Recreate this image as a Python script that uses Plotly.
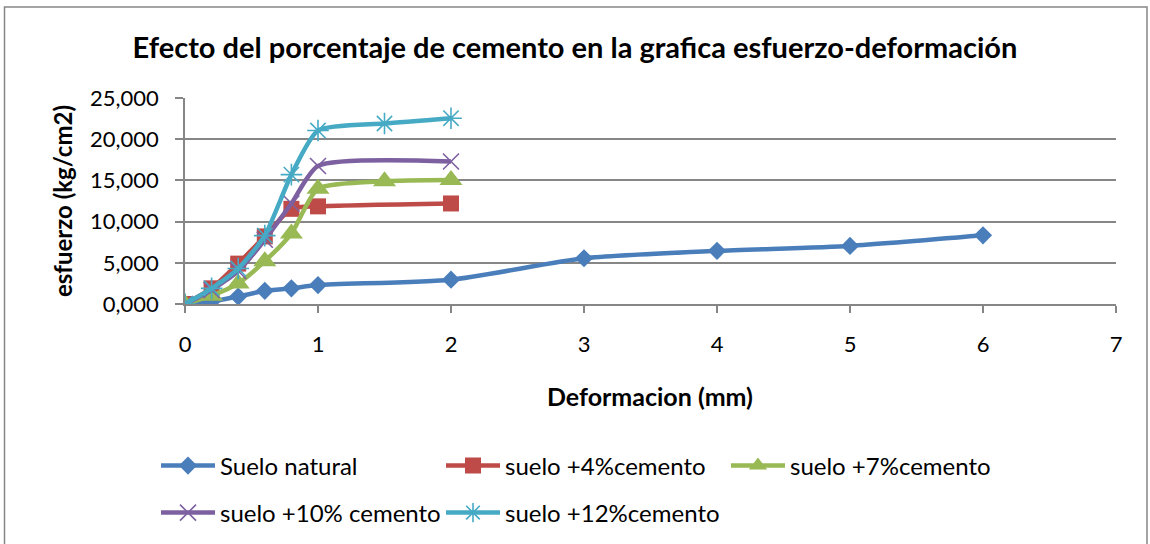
import plotly.graph_objects as go

# ---- data ----
x_natural = [0, 0.2, 0.4, 0.6, 0.8, 1, 2, 3, 4, 5, 6]
y_natural = [0, 300, 900, 1600, 1900, 2300, 2950, 5550, 6450, 7050, 8330]

x_c4 = [0, 0.2, 0.4, 0.6, 0.8, 1, 2]
y_c4 = [0, 1900, 4900, 8200, 11550, 11850, 12200]

x_c7 = [0, 0.2, 0.4, 0.6, 0.8, 1, 1.5, 2]
y_c7 = [0, 1000, 2500, 5200, 8550, 14000, 14900, 15050]

x_c10 = [0, 0.2, 0.4, 0.6, 0.8, 1, 2]
y_c10 = [0, 1700, 4000, 7800, 12200, 16750, 17300]

x_c12 = [0, 0.2, 0.4, 0.6, 0.8, 1, 1.5, 2]
y_c12 = [0, 1900, 4300, 8300, 15700, 21050, 21900, 22550]

series_names = ["Suelo natural", "suelo +4%cemento", "suelo +7%cemento",
                "suelo +10% cemento", "suelo +12%cemento"]
y_tickvals = [0, 5000, 10000, 15000, 20000, 25000]
y_ticktext = ["0,000", "5,000", "10,000", "15,000", "20,000", "25,000"]
x_tickvals = [0, 1, 2, 3, 4, 5, 6, 7]

title_text = "Efecto del porcentaje de cemento en la grafica esfuerzo-deformación"
x_title = "Deformacion (mm)"
y_title = "esfuerzo (kg/cm2)"

# ---- styles ----
colors = ["#4A7EBB", "#BE4B48", "#98B954", "#7D60A0", "#46AAC5"]
symbols = ["diamond", "square", "triangle-up", "x-thin-open", "asterisk-open"]
sizes = [14, 16, 20, 16, 18]
legends = ["legend", "legend", "legend", "legend2", "legend2"]

FONT = "Lato"
fig = go.Figure()
data = [(x_natural, y_natural), (x_c4, y_c4), (x_c7, y_c7), (x_c10, y_c10), (x_c12, y_c12)]
for i, (xs, ys) in enumerate(data):
    open_sym = symbols[i].endswith("open")
    fig.add_trace(go.Scatter(
        x=xs, y=ys, name=series_names[i], mode="lines+markers",
        line=dict(color=colors[i], width=4.5, shape="spline", smoothing=0.6),
        marker=dict(symbol=symbols[i], size=sizes[i], color=colors[i],
                    line=dict(color=colors[i], width=1.6 if open_sym else 0)),
        legend=legends[i],
    ))

W, H = 1150, 544
L, R, T, B = 185, 34, 98, 240
pw, ph = W - L - R, H - T - B

def px_x(p):
    return (p - L) / pw

def px_y(p):
    return (H - B - p) / ph

leg_common = dict(orientation="h", xref="container", x=156 / W, xanchor="left",
                  yanchor="middle", entrywidth=216, entrywidthmode="pixels",
                  itemwidth=54, font=dict(family=FONT, size=24),
                  bgcolor="rgba(0,0,0,0)")

fig.update_layout(
    width=W, height=H,
    margin=dict(l=L, r=R, t=T, b=B, autoexpand=False),
    paper_bgcolor="white", plot_bgcolor="white",
    font=dict(family=FONT, size=22, color="black"),
    title=dict(text="<b>%s</b>" % title_text, x=0.5, xanchor="center",
               y=1 - 48 / H, yanchor="middle", yref="container",
               font=dict(family=FONT, size=29, color="black")),
    xaxis=dict(range=[0, 7], tickvals=x_tickvals, showgrid=False, zeroline=False,
               showline=True, linecolor="#868686", linewidth=1.5,
               ticks="outside", ticklen=7, tickwidth=1.5, tickcolor="#868686",
               ticklabelstandoff=13, automargin=False),
    yaxis=dict(range=[0, 25000], tickvals=y_tickvals, ticktext=y_ticktext,
               showgrid=True, gridcolor="#868686", gridwidth=1.5, zeroline=False,
               showline=True, linecolor="#868686", linewidth=1.5,
               ticks="outside", ticklen=8, tickwidth=1.5, tickcolor="#868686",
               ticklabelstandoff=12, automargin=False),
    annotations=[
        dict(text="<b>%s</b>" % x_title, xref="paper", yref="paper",
             x=px_x(650), y=px_y(396), xanchor="center", yanchor="middle",
             showarrow=False, font=dict(family=FONT, size=25, color="black")),
        dict(text="<b>%s</b>" % y_title, xref="paper", yref="paper",
             x=px_x(62), y=px_y(201), xanchor="center", yanchor="middle",
             textangle=-90, showarrow=False,
             font=dict(family=FONT, size=24, color="black")),
    ],
    legend=dict(leg_common, y=px_y(466)),
    legend2=dict(leg_common, y=px_y(513)),
    shapes=[dict(type="rect", xref="paper", yref="paper",
                 x0=px_x(4.5), x1=px_x(1147), y0=px_y(560), y1=px_y(7),
                 line=dict(color="#868686", width=1.5), fillcolor="rgba(0,0,0,0)",
                 layer="below")],
)

fig.write_html("out.html", config={"displayModeBar": False},
               post_script="document.body.style.margin='0';document.body.style.overflow='hidden';")
